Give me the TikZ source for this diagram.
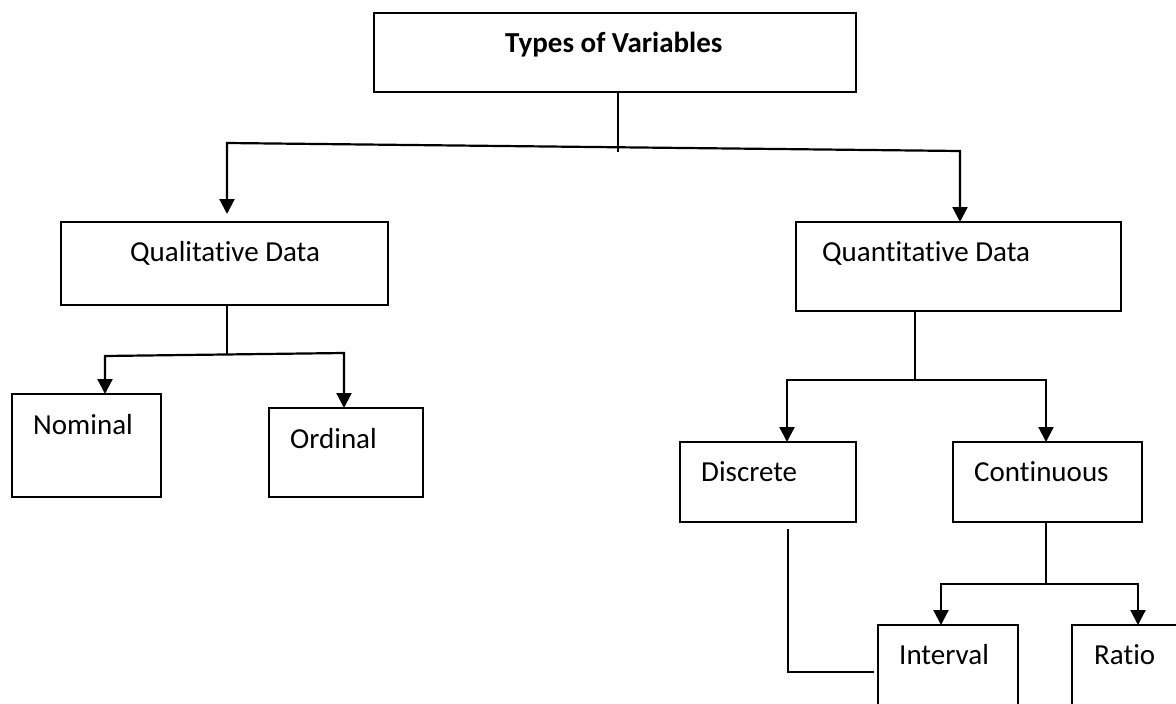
\documentclass[tikz,border=0pt]{standalone}
\usepackage{fontspec}
\setmainfont[RawFeature={-liga}]{Carlito}
\usetikzlibrary{arrows.meta}
\begin{document}
\begin{tikzpicture}[x=1pt,y=-1pt,
  box/.style={draw, line width=1.8pt, rectangle, inner sep=0pt, outer sep=0pt, anchor=north west},
  lbl/.style={inner sep=0pt, anchor=base west, font=\fontsize{29}{34}\selectfont},
  tip/.tip={Triangle[width=15pt,length=15pt]},
  conn/.style={line width=2.2pt, tip-tip},
  stem/.style={line width=1.7pt}]
\clip (0,0) rectangle (1176,704);

% boxes
\node[box, minimum width=482pt, minimum height=79pt]  (tv)  at (374,13)  {};
\node[box, minimum width=327pt, minimum height=83pt]  (ql)  at (61,222)  {};
\node[box, minimum width=325pt, minimum height=89pt]  (qn)  at (796,222) {};
\node[box, minimum width=149pt, minimum height=103pt] (nom) at (12,394)  {};
\node[box, minimum width=154pt, minimum height=89pt]  (ord) at (269,408) {};
\node[box, minimum width=176pt, minimum height=80pt]  (dis) at (680,442) {};
\node[box, minimum width=189pt, minimum height=80pt]  (con) at (953,442) {};
\node[box, minimum width=140pt, minimum height=100pt] (int) at (878,625) {};
\node[box, minimum width=130pt, minimum height=100pt] (rat) at (1072,625) {};

% labels
\node[lbl, font=\fontsize{29}{34}\selectfont\bfseries] (tvt) at (505,52) {Types of Variables};
\node[lbl] (qlt)  at (130,261) {Qualitative Data};
\node[lbl] (qnt)  at (822,261) {Quantitative Data};
\node[lbl] (nomt) at (33,434)  {Nominal};
\node[lbl] (ordt) at (290,448) {Ordinal};
\node[lbl] (dist) at (701,481) {Discrete};
\node[lbl] (cont) at (974,481) {Continuous};
\node[lbl] (intt) at (899,664) {Interval};
\node[lbl] (ratt) at (1094,664) {Ratio};

% junction points
\coordinate (j1)  at (618,152);
\coordinate (h1l) at (227,143);
\coordinate (h1r) at (960,151);
\coordinate (j2)  at (227,355);
\coordinate (h2l) at (105,356);
\coordinate (h2r) at (344,353);
\coordinate (j3)  at (915,380);
\coordinate (h3l) at (787,380);
\coordinate (h3r) at (1046,380);
\coordinate (j4)  at (1046,584);
\coordinate (h4l) at (941,584);
\coordinate (h4r) at (1138,584);
\coordinate (d2)  at (788,672);

% Types of Variables -> Qualitative / Quantitative
\draw[line width=1.3pt] (tv.south -| j1) -- (j1);
\draw[conn, shorten <=8pt] (ql.north -| h1l) -- (h1l) -- (h1r) -- (qn.north -| h1r);

% Qualitative -> Nominal / Ordinal
\draw[stem] (ql.south -| j2) -- (j2);
\draw[conn] (nom.north -| h2l) -- (h2l) -- (h2r) -- (ord.north -| h2r);

% Quantitative -> Discrete / Continuous
\draw[stem] (qn.south -| j3) -- (j3);
\draw[conn] (dis.north -| h3l) -- (h3l) -- (h3r) -- (con.north -| h3r);

% Continuous -> Interval / Ratio
\draw[stem] (con.south -| j4) -- (j4);
\draw[conn] (int.north -| h4l) -- (h4l) -- (h4r) -- (rat.north -| h4r);

% Discrete -> Interval
\draw[stem, shorten <=7pt, shorten >=4pt] (dis.south -| d2) -- (d2) -- (d2 -| int.west);
\end{tikzpicture}
\end{document}
